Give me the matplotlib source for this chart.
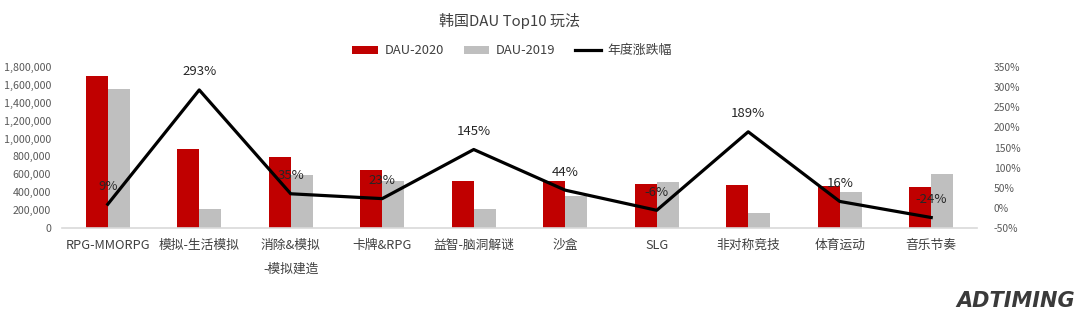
import matplotlib
matplotlib.use("Agg")
import matplotlib.pyplot as plt
import numpy as np
from matplotlib.ticker import FuncFormatter

plt.rcParams['font.family'] = ['Noto Sans CJK SC', 'DejaVu Sans']

categories = ['RPG-MMORPG', '模拟-生活模拟', '消除&模拟\n-模拟建造', '卡牌&RPG', '益智-脑洞解谜',
              '沙盒', 'SLG', '非对称竞技', '体育运动', '音乐节奏']
dau_2020 = [1700000, 883000, 795000, 645000, 528000, 528000, 487000, 478000, 465000, 458000]
dau_2019 = [1555000, 215000, 588000, 522000, 212000, 362000, 518000, 163000, 405000, 602000]
growth = [9, 293, 35, 23, 145, 44, -6, 189, 16, -24]

RED = '#C00000'
GRAY = '#BFBFBF'
TXT = '#404040'

fig = plt.figure(figsize=(10.8, 3.24), dpi=100)
fig.patch.set_facecolor('white')

ax = fig.add_axes([0.0574, 0.2963, 0.8472, 0.4969])
ax.patch.set_alpha(0)
x = np.arange(len(categories))
w = 0.24
ax.bar(x - w / 2, dau_2020, width=w, color=RED, label='DAU-2020', zorder=2)
ax.bar(x + w / 2, dau_2019, width=w, color=GRAY, label='DAU-2019', zorder=2)
ax.set_xlim(-0.5, len(categories) - 0.5)
ax.set_ylim(0, 1800000)
ax.set_yticks(np.arange(0, 1800001, 200000))
ax.yaxis.set_major_formatter(FuncFormatter(lambda v, p: f'{int(v):,}'))
ax.tick_params(axis='y', length=0, labelsize=7.7, labelcolor='#595959', pad=8)
ax.set_xticks(x)
ax.set_xticklabels(categories, fontsize=9.2, color=TXT, linespacing=2.1, va='top')
ax.tick_params(axis='x', length=0, pad=8)
for s in ['top', 'right', 'left']:
    ax.spines[s].set_visible(False)
ax.spines['bottom'].set_color('#D9D9D9')
ax.spines['bottom'].set_linewidth(1.2)

ax2 = ax.twinx()
ax2.plot(x, growth, color='black', linewidth=2.3, label='年度涨跌幅', zorder=3)
ax2.set_ylim(-50, 350)
ax2.set_yticks(np.arange(-50, 351, 50))
ax2.yaxis.set_major_formatter(FuncFormatter(lambda v, p: f'{int(v)}%'))
ax2.tick_params(axis='y', length=0, labelsize=7.4, labelcolor='#595959', pad=12)
for s in ax2.spines.values():
    s.set_visible(False)
for xi, g in zip(x, growth):
    ax2.annotate(f'{g}%', (xi, g), xytext=(0, 13), textcoords='offset points',
                 ha='center', va='center', fontsize=9.5, color='#262626', zorder=4)

h1, l1 = ax.get_legend_handles_labels()
h2, l2 = ax2.get_legend_handles_labels()
fig.legend(h1 + h2, l1 + l2, loc='center', bbox_to_anchor=(0.474, 0.843), ncol=3,
           frameon=False, fontsize=9.3, handlelength=2.0, handleheight=0.6,
           columnspacing=1.5, handletextpad=0.5, labelcolor=TXT)

fig.text(0.472, 0.935, '韩国DAU Top10 玩法', ha='center', va='center', fontsize=10.8, color=TXT)

# logo
fig.text(0.995, 0.07, 'ADTIMING', ha='right', va='center', fontsize=15, color='#3a3a3a',
         fontweight='bold', family='DejaVu Sans', style='italic')

fig.savefig('out.png', dpi=100, facecolor='white')
